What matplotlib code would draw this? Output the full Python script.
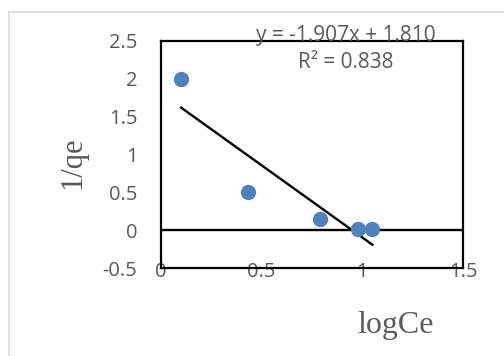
import matplotlib.pyplot as plt
import numpy as np
from matplotlib.patches import Rectangle

# data
log_ce = [0.10, 0.43, 0.79, 0.98, 1.05]
inv_qe = [2.00, 0.50, 0.15, 0.02, 0.01]
slope = -1.907
intercept = 1.810
r2 = 0.838

x_ticks = [0, 0.5, 1, 1.5]
y_ticks = [-0.5, 0, 0.5, 1, 1.5, 2, 2.5]

gray = "#595959"

fig = plt.figure(figsize=(5.04, 3.56), dpi=100)
fig.patch.set_facecolor("white")

# light border of the chart area
fig.patches.append(Rectangle((9/504, -0.01), 1.0, 1 - 12/356 + 0.01,
                             transform=fig.transFigure, fill=False,
                             edgecolor="#d9d9d9", linewidth=1.2))

ax = fig.add_axes([161/504, 1 - 268/356, 302/504, 227/356])

ax.plot(log_ce, inv_qe, "o", color="#4F81BD", markersize=10, zorder=3)

# trend line over the data range
xl = np.array([min(log_ce), max(log_ce)])
ax.plot(xl, slope*xl + intercept, color="black", linewidth=1.7, zorder=2)

ax.axhline(0, color="black", linewidth=1.7, zorder=1)

ax.set_xlim(0, 1.5)
ax.set_ylim(-0.5, 2.5)
ax.set_xticks(x_ticks)
ax.set_yticks(y_ticks)
ax.set_xticklabels([f"{v:g}" for v in x_ticks])
ax.set_yticklabels([f"{v:g}" for v in y_ticks])
for s in ax.spines.values():
    s.set_color("black")
    s.set_linewidth(1.6)
ax.tick_params(axis="y", length=0, pad=17, labelsize=14.5, labelcolor=gray)
ax.tick_params(axis="x", length=0, pad=-4, labelsize=14.5, labelcolor=gray)
for lab in ax.get_xticklabels() + ax.get_yticklabels():
    lab.set_family("Open Sans")

# equation text, sits under the top border
fig.text(346/504, 1 - 35/356, f"y = {slope:.3f}x + {intercept:.3f}",
         ha="center", va="center", fontsize=15, color=gray,
         family="Open Sans", zorder=0)
fig.text(346/504, 1 - 63/356, f"R² = {r2:.3f}",
         ha="center", va="center", fontsize=15, color=gray,
         family="Open Sans")

fig.text(396/504, 1 - 326/356, "logCe", ha="center", va="center",
         fontsize=23, color=gray, family="Liberation Serif")
fig.text(73/504, 1 - 163/356, "1/qe", ha="center", va="center",
         rotation=90, fontsize=22, color=gray, family="Liberation Serif")

fig.savefig("out.png", dpi=100)
